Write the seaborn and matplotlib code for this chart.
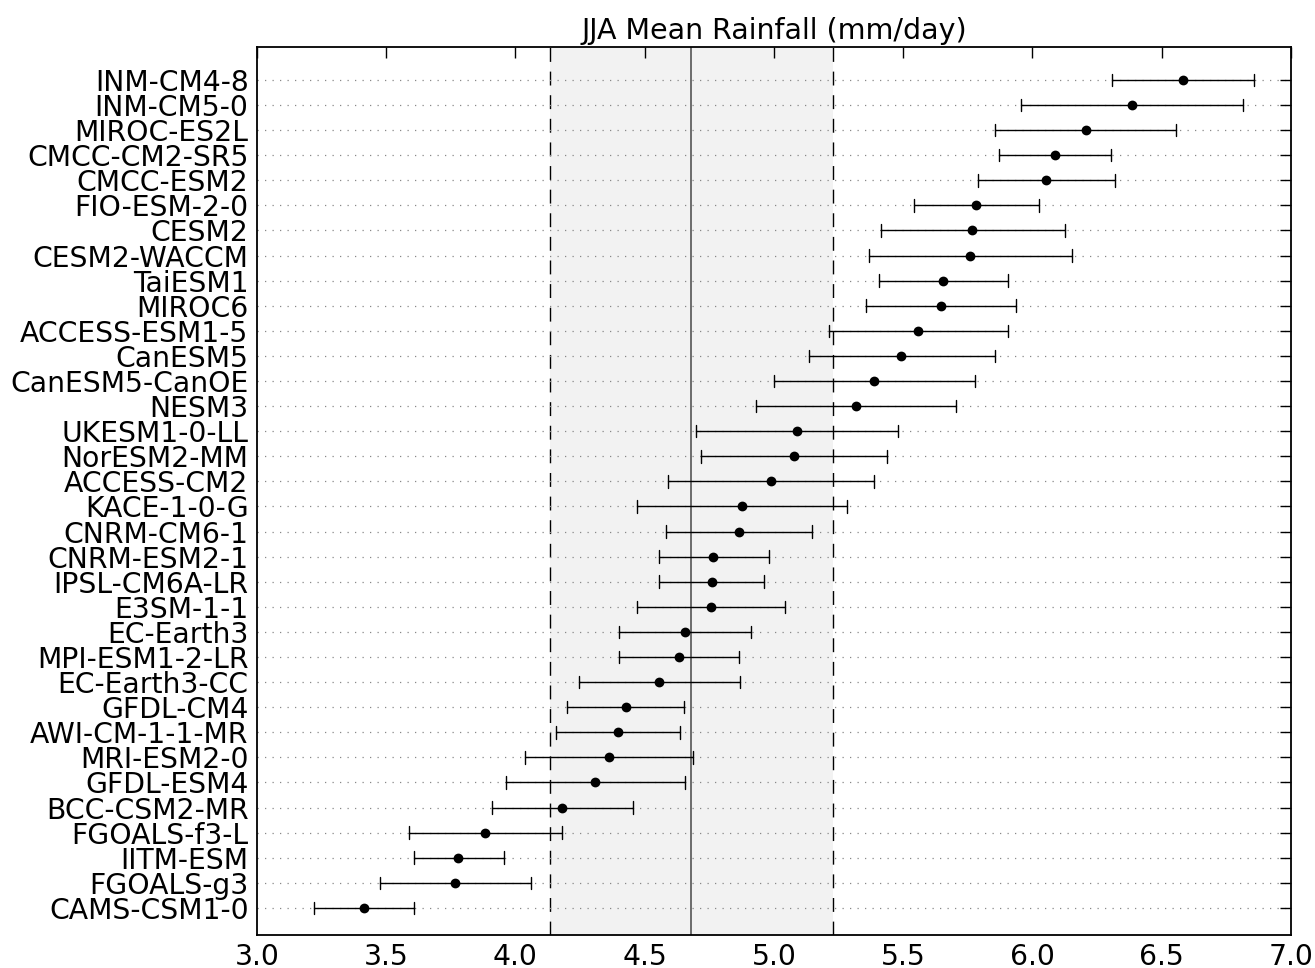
import numpy as np
import pandas as pd
import matplotlib
matplotlib.use("Agg")
import matplotlib.pyplot as plt
import seaborn as sns

models = ["INM-CM4-8", "INM-CM5-0", "MIROC-ES2L", "CMCC-CM2-SR5", "CMCC-ESM2",
          "FIO-ESM-2-0", "CESM2", "CESM2-WACCM", "TaiESM1", "MIROC6",
          "ACCESS-ESM1-5", "CanESM5", "CanESM5-CanOE", "NESM3", "UKESM1-0-LL",
          "NorESM2-MM", "ACCESS-CM2", "KACE-1-0-G", "CNRM-CM6-1", "CNRM-ESM2-1",
          "IPSL-CM6A-LR", "E3SM-1-1", "EC-Earth3", "MPI-ESM1-2-LR", "EC-Earth3-CC",
          "GFDL-CM4", "AWI-CM-1-1-MR", "MRI-ESM2-0", "GFDL-ESM4", "BCC-CSM2-MR",
          "FGOALS-f3-L", "IITM-ESM", "FGOALS-g3", "CAMS-CSM1-0"]

mean_vals = [6.581, 6.385, 6.207, 6.087, 6.053, 5.781, 5.768, 5.760, 5.655, 5.648,
             5.559, 5.493, 5.389, 5.316, 5.088, 5.078, 4.989, 4.877, 4.866, 4.764,
             4.759, 4.756, 4.657, 4.634, 4.555, 4.427, 4.396, 4.362, 4.309, 4.179,
             3.883, 3.779, 3.768, 3.416]

low_vals = [6.306, 5.956, 5.857, 5.872, 5.789, 5.540, 5.415, 5.368, 5.407, 5.357,
            5.214, 5.135, 4.999, 4.929, 4.699, 4.717, 4.592, 4.469, 4.581, 4.555,
            4.555, 4.469, 4.401, 4.401, 4.244, 4.200, 4.158, 4.038, 3.964, 3.910,
            3.588, 3.606, 3.476, 3.220]

high_vals = [6.858, 6.813, 6.557, 6.304, 6.319, 6.024, 6.126, 6.152, 5.906, 5.938,
             5.904, 5.857, 5.778, 5.705, 5.478, 5.439, 5.389, 5.284, 5.148, 4.979,
             4.960, 5.044, 4.913, 4.866, 4.869, 4.652, 4.636, 4.688, 4.657, 4.453,
             4.179, 3.954, 4.059, 3.609]

obs_center = 4.681
obs_low = 4.132
obs_high = 5.229

x_ticks = [3.0, 3.5, 4.0, 4.5, 5.0, 5.5, 6.0, 6.5, 7.0]
x_ticklabels = ["3.0", "3.5", "4.0", "4.5", "5.0", "5.5", "6.0", "6.5", "7.0"]

rows = []
for m, lo, mu, hi in zip(models, low_vals, mean_vals, high_vals):
    for v in (lo, mu, hi):
        rows.append({"model": m, "value": v})
df = pd.DataFrame(rows)

sns.set_style("white")
plt.rcParams['font.family'] = ['DejaVu Sans']
plt.rcParams['text.color'] = 'black'

fig = plt.figure(figsize=(13.15, 9.68), dpi=100)
ax = fig.add_axes([0.1954, 0.0341, 0.7863, 0.9173])

ax.axvspan(obs_low, obs_high, color="#f2f2f2", zorder=0.1, lw=0)
ax.axvline(obs_low, color="black", lw=1, ls=(0, (10, 7)), zorder=0.3)
ax.axvline(obs_high, color="black", lw=1, ls=(0, (10, 7)), zorder=0.3)
ax.axvline(obs_center, color="#555555", lw=1.2, zorder=0.3)

sns.pointplot(data=df, x="value", y="model", order=models, estimator="median",
              errorbar=("pi", 100), linestyle="none", color="black", marker="o",
              markersize=5, capsize=0.5, err_kws={"linewidth": 1.0}, ax=ax)

ax.set_xlim(3, 7)
ax.set_ylim(len(models) - 1 + 1.08, -1.31)
ax.set_xticks(x_ticks)
ax.set_xticklabels(x_ticklabels)
ax.set_xlabel("")
ax.set_ylabel("")
ax.yaxis.grid(True, linestyle=(0, (1, 5)), color="#888888", lw=0.9)
ax.xaxis.grid(False)
ax.set_axisbelow(True)
for gl in ax.get_ygridlines():
    gl.set_zorder(0.2)

ax.tick_params(direction="in", top=True, right=True, length=8, width=1,
               labelsize=20.3, pad=6, colors="black")
for s in ax.spines.values():
    s.set_linewidth(1.3)
    s.set_color("black")

ax.set_title("JJA Mean Rainfall (mm/day)", fontsize=20.5, pad=6, color="black")

fig.savefig("out.png", dpi=100)
